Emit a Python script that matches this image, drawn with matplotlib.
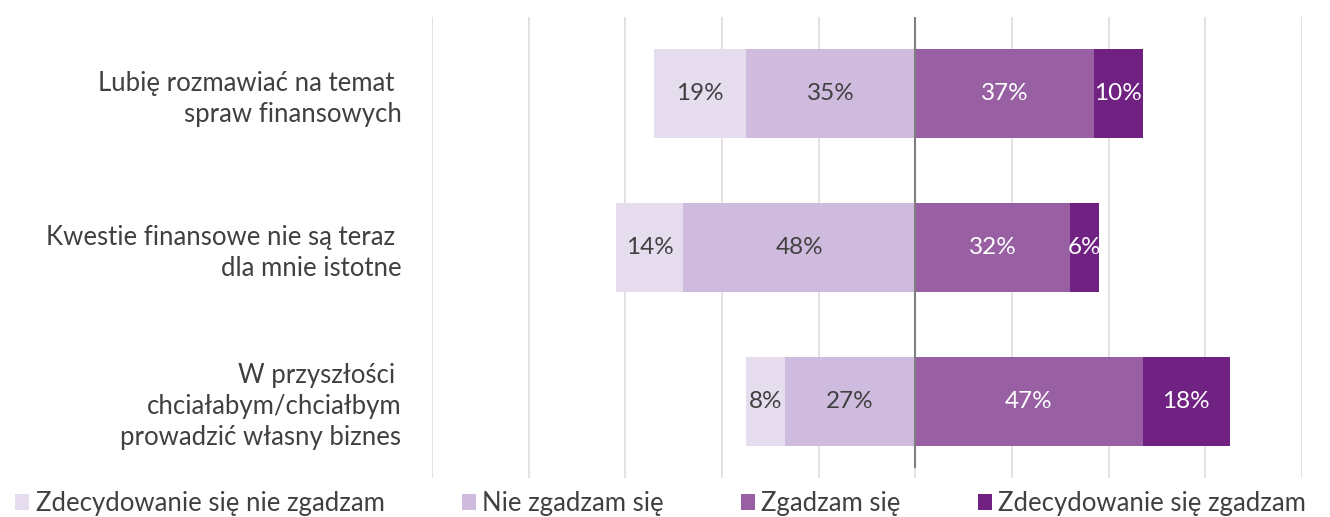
import matplotlib.pyplot as plt
import numpy as np

plt.rcParams['font.family'] = ['Lato', 'DejaVu Sans']

labels = ['Lubię rozmawiać na temat \nspraw finansowych',
          'Kwestie finansowe nie są teraz \ndla mnie istotne',
          'W przyszłości \nchciałabym/chciałbym\nprowadzić własny biznes']
series = ['Zdecydowanie się nie zgadzam', 'Nie zgadzam się',
          'Zgadzam się', 'Zdecydowanie się zgadzam']
strong_disagree = [19, 14, 8]
disagree = [35, 48, 27]
agree = [37, 32, 47]
strong_agree = [10, 6, 18]

colors = ['#e5dcee', '#cfbbdd', '#985fa3', '#702283']
txt_colors = ['#404040', '#404040', 'white', 'white']

fig = plt.figure(figsize=(13.3, 5.17), dpi=100)
ax = fig.add_axes([432/1330, 1 - 478/517, 870/1330, 461/517])

y = np.arange(len(labels))
sd = np.array(strong_disagree)
d = np.array(disagree)
a = np.array(agree)
sa = np.array(strong_agree)

lefts = [-(sd + d), -d, np.zeros(3), a]
vals = [sd, d, a, sa]
for i in range(4):
    bars = ax.barh(y, vals[i], left=lefts[i], height=0.58, color=colors[i],
                   label=series[i], zorder=3)
    for b, v in zip(bars, vals[i]):
        ax.text(b.get_x() + b.get_width() / 2, b.get_y() + b.get_height() / 2,
                f'{v}%', ha='center', va='center', fontsize=17.5,
                color=txt_colors[i], zorder=4)

ax.set_xlim(-100, 80)
ax.set_ylim(2.5, -0.5)
ax.set_xticks(np.arange(-100, 81, 20))
ax.grid(axis='x', color='#e2dde0', linewidth=1.3, zorder=0)
ax.axvline(0, ymin=0.024, ymax=1, color='#7f7f7f', linewidth=1.5, zorder=5)
for s in ax.spines.values():
    s.set_visible(False)
ax.tick_params(axis='x', length=0, labelbottom=False)
ax.tick_params(axis='y', length=0, pad=22)
ax.set_yticks(y)
ax.set_yticklabels(labels, fontsize=18.5, color='#404040', linespacing=1.3)
for t in ax.get_yticklabels():
    t.set_horizontalalignment('right')

fig.legend(loc='lower left', bbox_to_anchor=(-0.006, -0.043), ncol=4, frameon=False,
           fontsize=18.5, handlelength=0.55, handleheight=0.55, handletextpad=0.25,
           columnspacing=3.0, labelcolor='#404040')

fig.savefig('out.png', dpi=100)
